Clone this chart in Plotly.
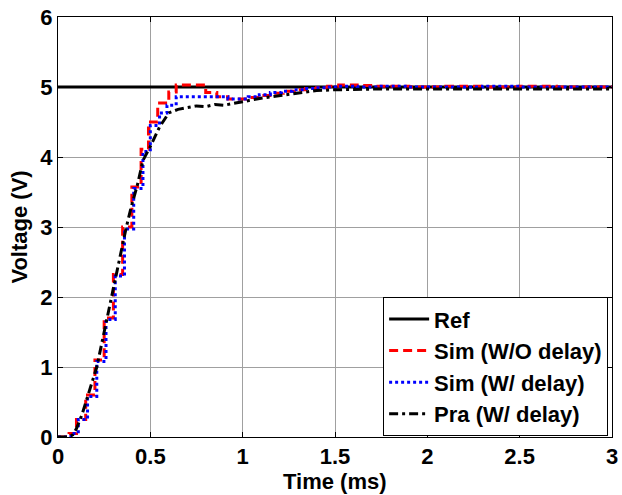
import plotly.graph_objects as go

# Reference voltage (V)
t_ref = [0.0, 3.0]
v_ref = [5.0, 5.0]

# Simulation without delay (staircase samples), time in ms
t_sim_nd = [0.0, 0.06, 0.10, 0.15, 0.20, 0.25, 0.30, 0.35, 0.40, 0.45, 0.49, 0.54,
            0.60, 0.64, 0.80, 0.86, 0.92, 1.04, 1.10, 1.16, 1.22, 1.28, 1.34, 1.40,
            1.46, 1.52, 1.62, 1.72, 1.9, 2.1, 2.3, 2.5, 2.7, 3.0]
v_sim_nd = [0.0, 0.05, 0.25, 0.60, 1.10, 1.70, 2.32, 3.00, 3.57, 4.11, 4.50, 4.77,
            4.93, 5.03, 4.92, 4.86, 4.83, 4.85, 4.88, 4.91, 4.94, 4.96, 4.98, 4.99,
            5.01, 5.03, 5.02, 5.01, 5.00, 5.01, 5.00, 5.01, 5.00, 5.00]

# Simulation with delay (staircase samples)
t_sim_d = [0.0, 0.07, 0.11, 0.16, 0.21, 0.26, 0.31, 0.36, 0.41, 0.46, 0.50, 0.55,
           0.59, 0.64, 0.92, 1.03, 1.09, 1.15, 1.21, 1.27, 1.33, 1.39, 1.45, 1.52,
           1.62, 1.75, 1.9, 2.1, 2.3, 2.5, 2.7, 3.0]
v_sim_d = [0.0, 0.05, 0.25, 0.58, 1.08, 1.68, 2.30, 2.97, 3.55, 4.08, 4.45, 4.63,
           4.74, 4.86, 4.83, 4.86, 4.89, 4.92, 4.94, 4.96, 4.98, 4.99, 5.00, 5.01,
           5.00, 5.01, 5.00, 5.00, 5.01, 5.00, 5.00, 5.00]

# Practical measurement with delay
t_pra = [0.0, 0.05, 0.08, 0.10, 0.13, 0.16, 0.21, 0.25, 0.29, 0.33, 0.37, 0.40,
         0.43, 0.46, 0.50, 0.55, 0.60, 0.65, 0.70, 0.75, 0.80, 0.85, 0.90, 0.95,
         1.00, 1.10, 1.20, 1.30, 1.40, 1.50, 1.70, 2.00, 2.50, 3.00]
v_pra = [0.0, 0.0, 0.03, 0.12, 0.32, 0.58, 1.00, 1.50, 2.00, 2.50, 3.00, 3.32,
         3.60, 3.95, 4.15, 4.43, 4.63, 4.68, 4.71, 4.73, 4.72, 4.75, 4.74, 4.77,
         4.79, 4.84, 4.88, 4.92, 4.95, 4.96, 4.97, 4.97, 4.97, 4.97]

x_ticks = [0, 0.5, 1, 1.5, 2, 2.5, 3]
x_tick_labels = ["0", "0.5", "1", "1.5", "2", "2.5", "3"]
y_ticks = [0, 1, 2, 3, 4, 5, 6]

FONT = "Liberation Sans, Arial, sans-serif"

fig = go.Figure()
fig.add_trace(go.Scatter(x=t_ref, y=v_ref, mode="lines", name="<b>Ref</b>",
                         legendgroup="a",
                         line=dict(color="black", width=3)))
fig.add_trace(go.Scatter(x=t_sim_nd, y=v_sim_nd, mode="lines", name="<b>Sim (W/O delay)</b>",
                         legendgroup="b",
                         line=dict(color="#ff0000", width=3, dash="9px,5px", shape="hv")))
fig.add_trace(go.Scatter(x=t_sim_d, y=v_sim_d, mode="lines", name="<b>Sim (W/ delay)</b>",
                         legendgroup="c",
                         line=dict(color="#0000ff", width=3, dash="3px,3px", shape="hv")))
fig.add_trace(go.Scatter(x=t_pra, y=v_pra, mode="lines", name="<b>Pra (W/ delay)</b>",
                         legendgroup="d",
                         line=dict(color="black", width=3, dash="9px,4px,3px,4px")))

axis_common = dict(
    showline=True, linecolor="black", linewidth=1, mirror="ticks",
    ticks="inside", ticklen=5, tickcolor="black",
    showgrid=True, gridcolor="#a0a0a0", gridwidth=1,
    zeroline=False, automargin=False,
    tickfont=dict(family=FONT, size=22, color="black", weight="bold"),
)

fig.update_layout(
    width=622, height=495,
    margin=dict(l=58, r=10, t=17, b=58),
    paper_bgcolor="white", plot_bgcolor="white",
    font=dict(family=FONT, color="black"),
    xaxis=dict(range=[0, 3], tickvals=x_ticks, ticktext=x_tick_labels, **axis_common),
    yaxis=dict(range=[0, 6], tickvals=y_ticks,
               title=dict(text="<b>Voltage (V)</b>", font=dict(size=22), standoff=6),
               **axis_common),
    legend=dict(x=0.993, y=0.002, xanchor="right", yanchor="bottom",
                bgcolor="white", bordercolor="black", borderwidth=1,
                font=dict(family=FONT, size=22, color="black"),
                tracegroupgap=0, itemwidth=40),
    showlegend=True,
)

# x-axis title placed just under the tick labels
fig.add_annotation(text="<b>Time (ms)</b>", xref="paper", yref="paper",
                   x=0.5, y=-0.105, xanchor="center", yanchor="middle",
                   showarrow=False, borderpad=0,
                   font=dict(family=FONT, size=22, color="black"))

fig.write_html("out.html")
